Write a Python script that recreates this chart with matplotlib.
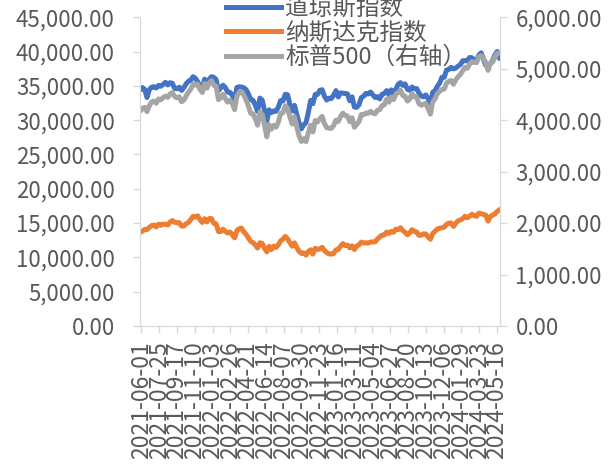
import numpy as np
import pandas as pd
import matplotlib
matplotlib.use('Agg')
import matplotlib.pyplot as plt
import matplotlib.dates as mdates
from matplotlib.ticker import FuncFormatter, MultipleLocator

plt.rcParams['font.family'] = ['Noto Sans CJK SC', 'DejaVu Sans']

# weekly closes (first point 2021-06-01, then Fridays)
dates = [pd.Timestamp('2021-06-01')] + list(pd.date_range('2021-06-04', '2024-05-24', freq='W-FRI'))

dow = [34575,
       # 2021
       34756, 34480, 33290, 34433, 34786, 34870, 34688, 35061, 34935,
       35209, 35515, 35120, 35455, 35369, 34607, 34584, 34798,
       34326, 34746, 35295, 35677, 35820, 36328, 36100, 35602, 34899,
       34580, 35971, 35365, 35950, 36338,
       # 2022
       36231, 35912, 34265, 34725, 35089, 34738, 34079, 34059,
       33615, 32944, 34755, 34861, 34818, 34721, 34451, 33811, 32977,
       32899, 32197, 31262, 33213, 32900, 31393, 29889, 31501,
       31097, 31338, 31288, 31899, 32845, 32803, 33761, 33706, 32283,
       31318, 32152, 30822, 29590, 28726, 29297, 29635, 31083, 32862,
       32403, 33748, 33746, 34347, 34430, 33477, 32920, 33204, 33147,
       # 2023
       33631, 34303, 33375, 33978, 33926, 33869, 33827, 32817,
       33391, 31910, 31862, 32238, 33274, 33485, 33887, 33809, 34098,
       33674, 33300, 33427, 33093, 33762, 33876, 34299, 33727, 34408,
       33734, 34509, 35228, 35459, 35066, 35281, 34501, 34347,
       34838, 34577, 34618, 33964, 33508, 33407, 33670, 33127, 32418,
       34061, 34283, 34947, 35390, 36245, 36248, 37306, 37385, 37690,
       # 2024
       37466, 37593, 37863, 38109, 38654, 38672, 38628, 39131,
       39087, 38723, 38715, 39476, 39807, 38905, 37983, 37986, 38240,
       38676, 39513, 40004, 39070]

nasdaq = [13736,
          # 2021
          13814, 14070, 14030, 14360, 14639, 14701, 14427, 14837, 14673,
          14835, 14823, 14714, 15129, 15363, 15115, 15044, 15048,
          14567, 14580, 14897, 15090, 15498, 15971, 15861, 16057, 15491,
          15085, 15630, 15170, 15653, 15645,
          # 2022
          14935, 14893, 13768, 13770, 14098, 13791, 13548, 13694,
          13313, 12843, 13894, 14169, 14262, 13711, 13351, 12839, 12335,
          12145, 11805, 11355, 12131, 12013, 11340, 10798, 11608,
          11128, 11636, 11452, 11834, 12391, 12657, 13048, 12705, 12142,
          11631, 12112, 11448, 10868, 10576, 10652, 10321, 10860, 11102,
          10475, 11323, 11146, 11226, 11462, 11005, 10705, 10498, 10466,
          # 2023
          10569, 11079, 11140, 11622, 12007, 11718, 11787, 11395,
          11689, 11139, 11631, 11824, 12222, 12088, 12123, 12073, 12227,
          12235, 12284, 12658, 12975, 13241, 13259, 13689, 13492, 13788,
          13661, 14114, 14032, 14317, 13909, 13645, 13291, 13590,
          14031, 13762, 13708, 13212, 13219, 13431, 13407, 12984, 12643,
          13478, 13798, 14125, 14251, 14305, 14404, 14814, 14992, 15011,
          # 2024
          14524, 14973, 15311, 15455, 15629, 15991, 15776, 15997,
          16275, 16085, 15973, 16429, 16379, 16249, 16175, 15282, 15928,
          16156, 16341, 16686, 16921]

spx = [4202,
       # 2021
       4230, 4247, 4166, 4281, 4352, 4370, 4327, 4412, 4395,
       4437, 4468, 4442, 4509, 4535, 4459, 4433, 4455,
       4357, 4391, 4471, 4545, 4605, 4697, 4683, 4698, 4595,
       4538, 4712, 4620, 4726, 4766,
       # 2022
       4677, 4662, 4398, 4432, 4500, 4418, 4349, 4385,
       4329, 4204, 4463, 4543, 4546, 4488, 4393, 4272, 4132,
       4123, 4024, 3901, 4158, 4109, 3901, 3675, 3912,
       3825, 3899, 3863, 3962, 4130, 4145, 4280, 4228, 4058,
       3924, 4067, 3873, 3693, 3586, 3640, 3583, 3753, 3901,
       3771, 3993, 3965, 4026, 4072, 3934, 3852, 3845, 3840,
       # 2023
       3895, 3999, 3973, 4071, 4136, 4090, 4079, 3970,
       4046, 3862, 3917, 3971, 4109, 4105, 4138, 4133, 4169,
       4136, 4124, 4192, 4205, 4282, 4299, 4410, 4348, 4450,
       4399, 4505, 4536, 4582, 4478, 4464, 4370, 4406,
       4516, 4457, 4450, 4320, 4288, 4308, 4327, 4224, 4117,
       4358, 4415, 4514, 4559, 4595, 4604, 4719, 4755, 4770,
       # 2024
       4697, 4784, 4840, 4891, 4959, 5027, 5006, 5089,
       5137, 5124, 5117, 5234, 5254, 5204, 5123, 4967, 5100,
       5128, 5223, 5303, 5305]

labels = ['道琼斯指数', '纳斯达克指数', '标普500（右轴）']
tick_dates = pd.date_range('2021-06-01', '2024-05-16', freq='54D')

grey_txt = '#595959'
grey_line = '#d9d9d9'

fig = plt.figure(figsize=(6.13, 4.65), dpi=100)
ax = fig.add_axes([0.228, 0.299, 0.588, 0.664])
ax2 = ax.twinx()

l1, = ax.plot(dates, dow, color='#4472C4', lw=3.6, label=labels[0])
l2, = ax.plot(dates, nasdaq, color='#ED7D31', lw=3.6, label=labels[1])
l3, = ax2.plot(dates, spx, color='#A5A5A5', lw=3.6, label=labels[2])

ax.set_ylim(0, 45000)
ax2.set_ylim(0, 6000)
ax.yaxis.set_major_locator(MultipleLocator(5000))
ax2.yaxis.set_major_locator(MultipleLocator(1000))
fmt = FuncFormatter(lambda v, p: '{:,.2f}'.format(v))
ax.yaxis.set_major_formatter(fmt)
ax2.yaxis.set_major_formatter(fmt)

ax.set_xlim(pd.Timestamp('2021-05-27'), pd.Timestamp('2024-05-26'))
ax.set_xticks(tick_dates)
ax.xaxis.set_major_formatter(mdates.DateFormatter('%Y-%m-%d'))
for lab in ax.get_xticklabels():
    lab.set_rotation(90)

for a in (ax, ax2):
    for s in a.spines.values():
        s.set_color(grey_line)
    a.spines['top'].set_visible(False)
    a.tick_params(colors=grey_txt, labelsize=16, length=5, width=1)
    a.tick_params(axis='both', color=grey_line)
ax.tick_params(axis='y', pad=13)
ax2.tick_params(axis='y', pad=6)
ax.tick_params(axis='x', labelsize=16.5, length=5, pad=6)

fig.legend(handles=[l1, l2, l3], loc='center', bbox_to_anchor=(0.565, 0.929),
           frameon=False, fontsize=17, labelspacing=0.06, handlelength=2.3,
           handletextpad=0.2, borderpad=0, labelcolor=grey_txt)

fig.savefig('out.png', dpi=100)
